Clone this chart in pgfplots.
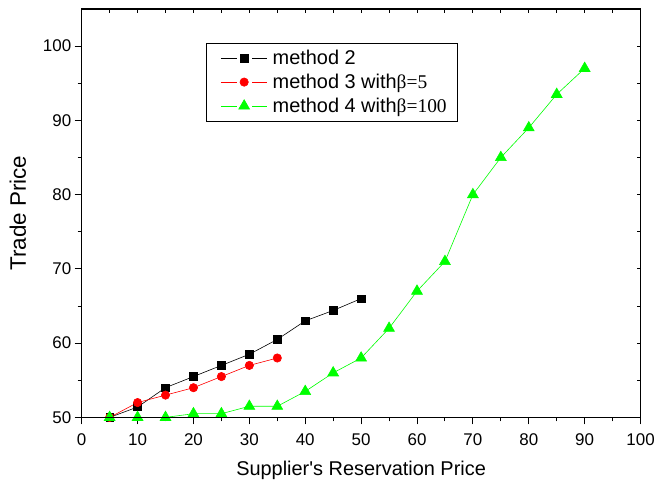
\documentclass[border=0pt]{standalone}
\usepackage{pgfplots}
\pgfplotsset{compat=1.18}
\usepackage{fontspec}
\setmainfont{Liberation Sans}
\newfontfamily\arial{Liberation Sans}
\newfontfamily\serif{Liberation Serif}
\definecolor{pgreen}{RGB}{0,255,0}
\definecolor{pred}{RGB}{255,0,0}
\pgfplotsset{
  gaplegend/.style={legend image code/.code={
    \draw[##1,mark=none] (0pt,0pt) -- (15.6pt,0pt);
    \draw[##1,mark=none] (31.6pt,0pt) -- (46.6pt,0pt);
    \draw[##1,only marks] plot coordinates {(23.3pt,0pt)};}},
}
\begin{document}
\begin{tikzpicture}
\begin{axis}[
  name=main,
  scale only axis, width=561pt, height=410pt,
  xmin=0, xmax=100, ymin=50, ymax=105,
  xtick={0,10,...,100}, ytick={50,60,...,100},
  minor xtick={5,15,...,95}, minor ytick={55,65,...,95},
  xtick pos=bottom, ytick pos=left, tick align=outside,
  major tick length=7pt, minor tick length=4pt,
  every tick/.style={black, line width=1pt},
  axis line style={line width=1.2pt},
  xticklabel style={font=\fontsize{17}{17}\selectfont, yshift=-6pt},
  yticklabel style={font=\fontsize{17}{17}\selectfont},
  /pgf/number format/assume math mode=true,
  xlabel={{\arial Supplier's Reservation Price}}, ylabel={Trade Price},
  xlabel style={font=\fontsize{20}{20}\selectfont, at={(axis description cs:0.5,-0.130)}, anchor=center},
  ylabel style={font=\fontsize{22.5}{22.5}\selectfont, at={(axis description cs:-0.114,0.5)}, anchor=center},
  clip=false,
  legend style={at={(rel axis cs:0.223,0.917)}, anchor=north west, draw=black, line width=0.8pt,
    font=\fontsize{20}{24}\selectfont, inner xsep=14pt, inner ysep=5pt, row sep=4pt},
  legend cell align=left,
]
\addplot[black, line width=0.6pt, mark=square*, mark size=3.8pt, mark options={solid}, gaplegend] coordinates {
(5,50) (10,51.4) (15,54) (20,55.5) (25,57) (30,58.5) (35,60.5) (40,63) (45,64.4) (50,66)};
\addlegendentry{\hspace*{3pt}method 2}
\addplot[pred, line width=0.6pt, mark=*, mark size=4.2pt, mark options={fill=pred,draw=pred}, gaplegend] coordinates {
(5,50) (10,52) (15,53) (20,54) (25,55.5) (30,57) (35,58)};
\addlegendentry{\hspace*{3pt}method 3 with{\serif\fontsize{19.5}{19.5}\selectfont β=5}}
\addplot[pgreen, line width=0.6pt, mark=triangle*, mark size=6.3pt, mark options={fill=pgreen,draw=pgreen}, gaplegend] coordinates {
(5,50) (10,50) (15,50) (20,50.5) (25,50.5) (30,51.5) (35,51.5) (40,53.5) (45,56) (50,58) (55,62) (60,67) (65,71) (70,80) (75,85) (80,89) (85,93.5) (90,97)};
\addlegendentry{\hspace*{3pt}method 4 with{\serif\fontsize{19.5}{19.5}\selectfont β=100}\hspace*{-5pt}}
\end{axis}
\begin{axis}[
  scale only axis, width=561pt, height=410pt,
  xmin=0, xmax=100, ymin=50, ymax=105,
  xtick={5,10,...,95}, ytick={55,60,...,100},
  xtick pos=top, ytick pos=right, tick align=inside,
  xticklabels={}, yticklabels={},
  major tick length=4pt,
  every tick/.style={black, line width=1pt},
  axis line style={line width=1.2pt},
]
\end{axis}
\path (main.south west) ++(-82pt,-66pt) rectangle ++(658pt,485pt);
\end{tikzpicture}
\end{document}
